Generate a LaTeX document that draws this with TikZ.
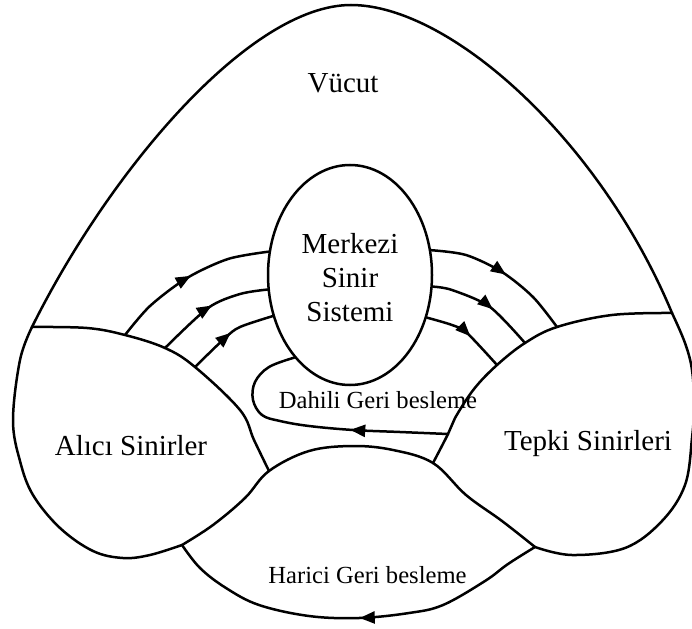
\documentclass[tikz,border=0pt]{standalone}
\usepackage{fontspec}
\setmainfont{Liberation Serif}
\usetikzlibrary{arrows.meta,decorations.markings,shapes.geometric}

\tikzset{
  outline/.style={line width=2.5pt, line join=round, line cap=round},
  bigtext/.style={font=\fontsize{29}{34}\selectfont, inner sep=0pt},
  smalltext/.style={font=\fontsize{24.6}{28}\selectfont, inner sep=0pt},
  flow/.style={outline,
    decoration={markings, mark=at position #1 with {\arrow{Triangle[length=15pt,width=12pt]}}},
    postaction={decorate}},
  flow/.default=0.5
}

\begin{document}
\begin{tikzpicture}[x=1pt,y=-1pt]
  \useasboundingbox (0,0) rectangle (692,628);

  % junction points of the outlines
  \coordinate (jl) at (32,327);   % body / receptor nerves
  \coordinate (jr) at (672,313);  % body / effector nerves
  \coordinate (top) at (351,5);
  \coordinate (bl) at (182,545);  % receptor nerves / external loop
  \coordinate (br) at (535,547);  % effector nerves / external loop
  \coordinate (lt) at (269,471);
  \coordinate (rt) at (433,463);
  % ends of the nerve paths on the lens edges
  \coordinate (la1) at (125,335);
  \coordinate (la2) at (165,348);
  \coordinate (la3) at (195,367);
  \coordinate (ra1) at (557,327);
  \coordinate (ra2) at (525,343);
  \coordinate (ra3) at (497,365);
  \coordinate (rd)  at (448,434);

  % central nervous system
  \node[ellipse, draw, outline, minimum width=164pt, minimum height=220pt,
        inner sep=0pt, align=center, bigtext, text height=94pt] (nss) at (350,275)
        {Merkezi\\Sinir\\Sistemi};

  % body
  \draw[outline] (jl) .. controls (110,170) and (250,5) .. (top)
                      .. controls (450,5) and (600,140) .. (jr);

  % receptor nerves
  \draw[outline] plot[smooth, tension=0.6] coordinates {(jl) (87,328) (la1) (la2)
    (la3) (240,410) (254,440) (lt)};
  \draw[outline] plot[smooth, tension=0.6] coordinates {(jl) (20,360) (13,420)
    (20,461) (33,495) (60,528) (93,551) (123,558) (150,555) (bl)};

  % effector nerves
  \draw[outline] plot[smooth, tension=0.6] coordinates {(jr) (612,315) (ra1) (ra2)
    (ra3) (474,389) (455,418) (rd) (rt)};
  \draw[outline] plot[smooth, tension=0.6] coordinates {(jr) (685,343) (692,370)
    (694,405) (692,438) (685,485) (662,521) (625,548) (572,555) (br)};

  % external feedback region
  \draw[outline] plot[smooth, tension=0.6] coordinates {(bl) (213,525) (245,498) (lt)
    (309,451) (353,446) (393,450) (rt) (466,495) (502,521) (br)};
  \draw[flow=0.49] plot[smooth, tension=0.6] coordinates {(br) (508,564) (485,581)
    (443,605) (409,613) (359,618) (309,616) (259,605) (226,588) (200,568) (bl)};

  % afferent paths
  \draw[flow=0.52] plot[smooth] coordinates {(la1) (150,306) (187,278) (228,259) (nss.164)};
  \draw[flow=0.52] plot[smooth] coordinates {(la2) (208,308) (240,294) (nss.190)};
  \draw[flow=0.52] plot[smooth] coordinates {(la3) (225,338) (240,327) (nss.208)};

  % efferent paths
  \draw[flow=0.52] plot[smooth] coordinates {(nss.17) (466,255) (502,272) (533,297) (ra1)};
  \draw[flow=0.58] plot[smooth] coordinates {(nss.-8) (452,290) (490,307) (ra2)};
  \draw[flow=0.55] plot[smooth] coordinates {(nss.-29) (452,325) (467,333) (ra3)};

  % internal feedback
  \draw[flow=0.36] plot[smooth, tension=0.6] coordinates {(rd) (400,432) (353,430)
    (309,426) (280,421) (262,415) (253,400) (255,382) (269,367) (nss.236)};

  % labels
  \node[bigtext, anchor=base] (body) at (343,93) {Vücut};
  \node[bigtext, anchor=base] (recv) at (131,455) {Alıcı Sinirler};
  \node[bigtext, anchor=base] (resp) at (588,450) {Tepki Sinirleri};
  \node[smalltext, anchor=base] (intfb) at (378,408) {Dahili Geri besleme};
  \node[smalltext, anchor=base] (extfb) at (367.5,583) {Harici Geri besleme};
\end{tikzpicture}
\end{document}
